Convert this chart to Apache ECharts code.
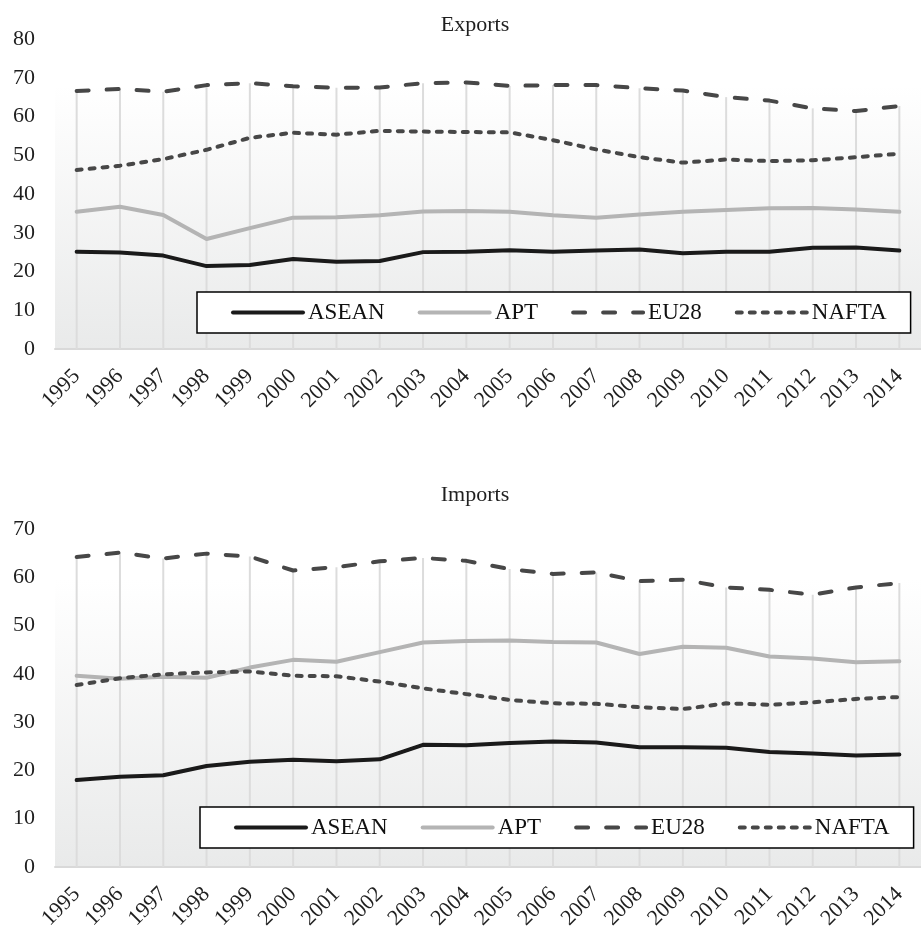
<!DOCTYPE html>
<html>
<head>
<meta charset="utf-8">
<script src="https://cdn.jsdelivr.net/npm/echarts@6/dist/echarts.min.js"></script>
<style>
  html, body { margin: 0; padding: 0; background: #fff; }
  #chart { width: 921px; height: 932px; }
</style>
</head>
<body>
<div id="chart"></div>
<script>
const years = ['1995', '1996', '1997', '1998', '1999', '2000', '2001', '2002', '2003', '2004',
  '2005', '2006', '2007', '2008', '2009', '2010', '2011', '2012', '2013', '2014'];

// Exports
const expAsean = [25.1, 24.9, 24.1, 21.4, 21.7, 23.2, 22.5, 22.7, 25.0, 25.1, 25.5, 25.1, 25.4, 25.7, 24.7, 25.1, 25.1, 26.1, 26.2, 25.4];
const expApt = [35.4, 36.7, 34.6, 28.4, 31.2, 33.9, 34.0, 34.5, 35.5, 35.6, 35.4, 34.5, 33.9, 34.7, 35.4, 35.9, 36.3, 36.4, 36.0, 35.4];
const expEu28 = [66.6, 67.1, 66.4, 68.1, 68.6, 67.8, 67.4, 67.5, 68.6, 68.8, 67.9, 68.1, 68.1, 67.3, 66.7, 65.0, 64.1, 62.1, 61.4, 62.7];
const expNafta = [46.2, 47.3, 49.0, 51.4, 54.5, 55.8, 55.3, 56.3, 56.1, 56.0, 55.9, 53.9, 51.5, 49.5, 48.1, 48.9, 48.5, 48.7, 49.5, 50.4];

// Imports
const impAsean = [18.0, 18.7, 19.0, 20.9, 21.8, 22.2, 21.9, 22.3, 25.3, 25.2, 25.7, 26.0, 25.8, 24.8, 24.8, 24.7, 23.8, 23.5, 23.1, 23.3];
const impApt = [39.6, 39.0, 39.4, 39.2, 41.3, 42.9, 42.5, 44.5, 46.5, 46.8, 46.9, 46.6, 46.5, 44.1, 45.6, 45.4, 43.6, 43.2, 42.4, 42.6];
const impEu28 = [64.2, 65.1, 63.9, 64.9, 64.3, 61.4, 62.1, 63.3, 64.0, 63.4, 61.7, 60.7, 61.0, 59.2, 59.5, 57.9, 57.4, 56.4, 57.9, 58.8];
const impNafta = [37.7, 39.1, 39.9, 40.3, 40.5, 39.6, 39.5, 38.4, 37.0, 35.8, 34.6, 33.9, 33.8, 33.1, 32.7, 33.9, 33.6, 34.1, 34.8, 35.2];

const seriesNames = ['ASEAN', 'APT', 'EU28', 'NAFTA'];

const serif = 'Liberation Serif, Times New Roman, serif';
const textColor = '#1f1f1f';

const styles = {
  ASEAN: { color: '#1a1a1a', width: 4, type: 'solid' },
  APT: { color: '#b4b4b4', width: 4, type: 'solid' },
  EU28: { color: '#474747', width: 4, type: [12, 18], cap: 'round' },
  NAFTA: { color: '#474747', width: 4, type: [5, 8], cap: 'round' },
};

function plotBg() {
  return new echarts.graphic.LinearGradient(0, 0, 0, 1, [
    { offset: 0, color: '#ffffff' },
    { offset: 0.15, color: '#ffffff' },
    { offset: 1, color: '#e9eaea' },
  ]);
}

function lineSeries(name, data, idx) {
  const s = styles[name];
  return {
    name: name + (idx ? ' ' : ''),
    type: 'line',
    xAxisIndex: idx,
    yAxisIndex: idx,
    data: data,
    symbol: 'none',
    z: 3,
    lineStyle: { color: s.color, width: s.width, type: s.type, cap: s.cap || 'round', join: 'round' },
    itemStyle: { color: s.color },
  };
}

// drop lines from the top series down to the axis
function dropLines(data, idx) {
  return {
    name: 'drop' + idx,
    type: 'bar',
    xAxisIndex: idx,
    yAxisIndex: idx,
    data: data,
    barWidth: 2,
    silent: true,
    z: 1,
    itemStyle: { color: '#dcdcdc' },
  };
}

function legendBox(idx, left, top) {
  return {
    data: seriesNames.map(n => n + (idx ? ' ' : '')),
    left: left,
    top: top,
    width: 700,
    orient: 'horizontal',
    backgroundColor: '#fff',
    borderColor: '#000',
    borderWidth: 1.5,
    borderRadius: 0,
    padding: [9, 24, 9, 34],
    itemWidth: 70,
    itemHeight: 22,
    itemGap: 33,
    itemStyle: { opacity: 0 },
    lineStyle: { width: 4 },
    formatter: n => n.trim(),
    textStyle: { fontFamily: serif, fontSize: 23, color: '#111' },
  };
}

function xAxis(idx) {
  return {
    type: 'category',
    gridIndex: idx,
    data: years,
    boundaryGap: true,
    axisLine: { lineStyle: { color: '#d9d9d9', width: 2 } },
    axisTick: { show: false },
    splitLine: { show: false },
    axisLabel: { rotate: 45, interval: 0, margin: 24, fontFamily: serif, fontSize: 22, color: textColor },
  };
}

function yAxis(idx, max) {
  return {
    type: 'value',
    gridIndex: idx,
    min: 0,
    max: max,
    interval: 10,
    axisLine: { show: false },
    axisTick: { show: false },
    splitLine: { show: false },
    axisLabel: { margin: 20, fontFamily: serif, fontSize: 22, color: textColor },
  };
}

const chart = echarts.init(document.getElementById('chart'));
chart.setOption({
  animation: false,
  backgroundColor: '#fff',
  title: [
    { text: 'Exports', left: 470, top: 9, textAlign: 'center',
      textStyle: { fontFamily: serif, fontSize: 22, fontWeight: 'normal', color: textColor } },
    { text: 'Imports', left: 470, top: 479, textAlign: 'center',
      textStyle: { fontFamily: serif, fontSize: 22, fontWeight: 'normal', color: textColor } },
  ],
  legend: [legendBox(0, 197, 292), legendBox(1, 200, 807)],
  grid: [
    { left: 55, right: -12, top: 39, height: 310, show: true, borderWidth: 0, backgroundColor: plotBg() },
    { left: 55, right: -12, top: 529, height: 340, show: true, borderWidth: 0, backgroundColor: plotBg() },
  ],
  xAxis: [xAxis(0), xAxis(1)],
  yAxis: [yAxis(0, 80), yAxis(1, 70)],
  series: [
    dropLines(expEu28, 0),
    lineSeries('ASEAN', expAsean, 0),
    lineSeries('APT', expApt, 0),
    lineSeries('EU28', expEu28, 0),
    lineSeries('NAFTA', expNafta, 0),
    dropLines(impEu28, 1),
    lineSeries('ASEAN', impAsean, 1),
    lineSeries('APT', impApt, 1),
    lineSeries('EU28', impEu28, 1),
    lineSeries('NAFTA', impNafta, 1),
  ],
});
window.addEventListener('resize', () => { chart.resize(); });
</script>
</body>
</html>
